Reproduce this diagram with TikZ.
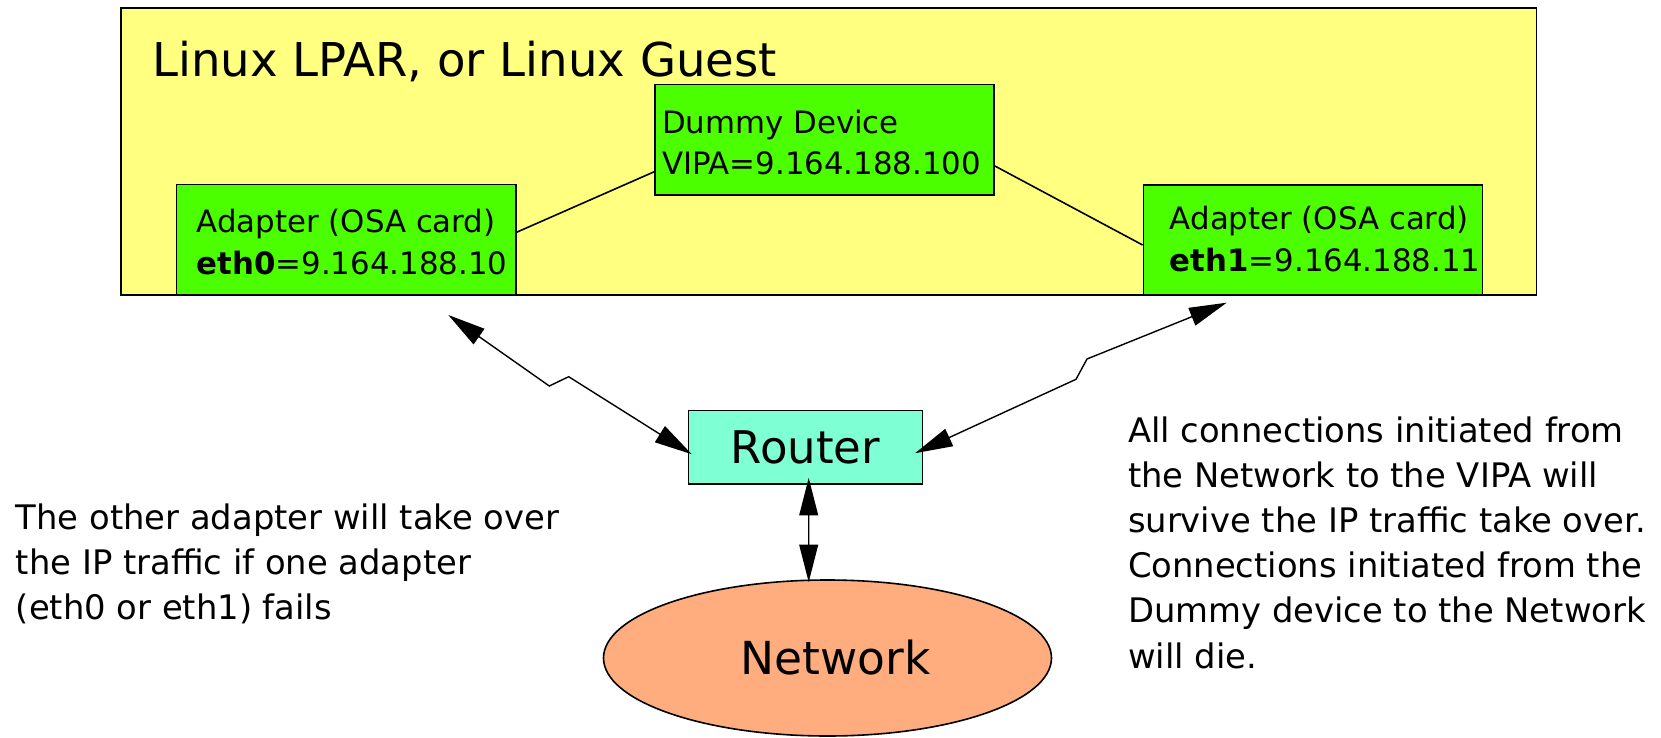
\documentclass[tikz,border=0pt]{standalone}
\usepackage{fontspec}
\setmainfont{DejaVu Sans}
\usetikzlibrary{arrows.meta,shapes.geometric,calc}
\definecolor{lparyellow}{HTML}{FFFF80}
\definecolor{cardgreen}{HTML}{4CFF00}
\definecolor{routeraqua}{HTML}{7FFFD4}
\definecolor{netorange}{HTML}{FFAD7F}
\begin{document}
\begin{tikzpicture}[x=0.5pt,y=-0.5pt,
  box/.style={draw=black, line width=0.8pt, inner sep=0pt},
  card/.style={box, fill=cardgreen, minimum width=169.6pt, minimum height=55.2pt},
  % multi-line texts are placed by the baseline of their last line
  boxtext/.style={anchor=base west, inner sep=0pt, align=left,
    font=\fontsize{15.4}{20.8}\selectfont},
  note/.style={anchor=base west, inner sep=0pt, align=left,
    font=\fontsize{16.9}{22.6}\selectfont},
  link/.style={line width=0.8pt},
  dbl/.style={line width=0.7pt,
    {Triangle[length=18.8pt,width=9.4pt]}-{Triangle[length=18.8pt,width=9.4pt]}}]

\path[fill=white] (0,0) rectangle (1661,738);
\useasboundingbox (0,0) rectangle (1661,738);

% host partition
\node[box, fill=lparyellow, minimum width=707.75pt, minimum height=143.35pt]
  (lpar) at (828.75,151.65) {};
\node[anchor=base west, inner sep=0pt, font=\fontsize{23.3}{28}\selectfont]
  (title) at (151.7,76.7) {Linux LPAR, or Linux Guest};

% links inside the partition
\node[card] (dummy) at (824.5,139.8) {};
\node[card] (eth0) at (346.25,239.65) {};
\node[card] (eth1) at (1313,240) {};
\draw[link] ($(eth0.east)+(0,-7.4)$) -- ($(dummy.west)+(0,32)$);
\draw[link] ($(dummy.east)+(0,26.2)$) -- ($(eth1.west)+(0,5)$);

\node[boxtext] (dummytxt) at (661.7,175) {Dummy Device\\VIPA=9.164.188.100};
\node[boxtext] (eth0txt) at (196.4,274) {Adapter (OSA card)\\\textbf{eth0}=9.164.188.10};
\node[boxtext] (eth1txt) at (1169.5,271) {Adapter (OSA card)\\\textbf{eth1}=9.164.188.11};

% router and network
\node[box, fill=routeraqua, minimum width=116.9pt, minimum height=36.85pt,
  font=\fontsize{22.5}{27}\selectfont] (router) at (805.4,447.2) {Router};
\node[ellipse, draw=black, line width=0.8pt, fill=netorange, inner sep=0pt,
  minimum width=224pt, minimum height=78pt,
  font=\fontsize{22.75}{27}\selectfont] (net) at (827.5,658) {\hspace*{8pt}Network};

% connections to the router
\coordinate (ethzeroport) at (448.3,315);
\coordinate (ethoneport) at (1226.7,302.7);
\draw[dbl] (ethzeroport) -- (549.3,386) -- (568.7,376.7) -- ($(router.west)+(4,7)$);
\draw[dbl] (ethoneport) -- (1087,359) -- (1076,379.3) -- ($(router.east)+(-8,6)$);
\draw[dbl] ($(router.south)+(3.3,-7)$) -- ($(net.north)+(-18.8,3)$);

% notes
\node[note] (leftnote) at (15.5,619.5)
  {The other adapter will take over\\the IP traffic if one adapter\\(eth0 or eth1) fails};
\node[note] (rightnote) at (1127.6,668)
  {All connections initiated from\\the Network to the VIPA will\\survive the IP traffic take over.\\Connections initiated from the\\Dummy device to the Network\\will die.};
\end{tikzpicture}
\end{document}
